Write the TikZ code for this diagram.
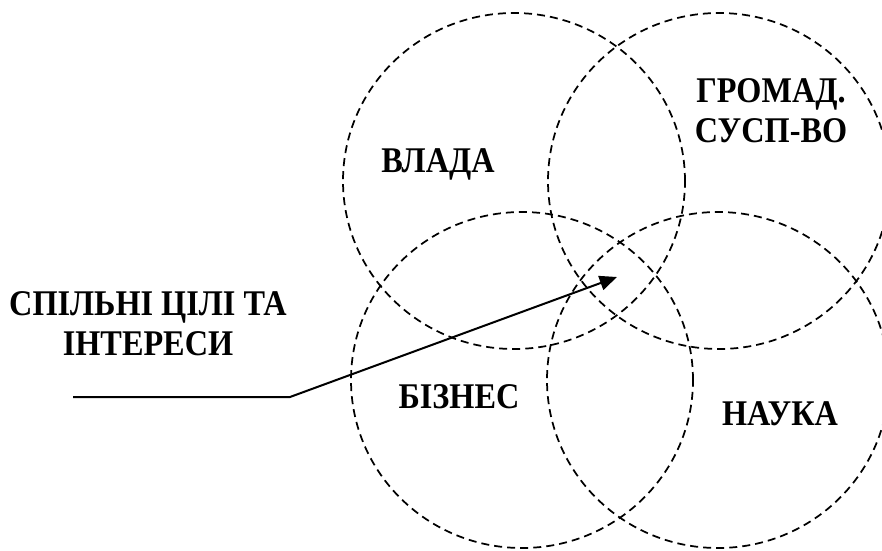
\documentclass[tikz,border=0pt]{standalone}
\usepackage{fontspec}
\setmainfont{Liberation Serif}
\usetikzlibrary{arrows.meta}
\newcommand{\tall}[1]{\scalebox{1}[1.12]{#1}}
\tikzset{
  ring/.style={draw=black, line width=1.3pt, dash pattern=on 6pt off 3.8pt},
  lbl/.style={font=\fontsize{24.2}{30}\selectfont\bfseries, align=center, inner sep=0pt, text=black},
  pointer/.style={draw=black, line width=1.5pt, -{Triangle[length=13pt,width=11pt]}}
}
\begin{document}
\begin{tikzpicture}[x=0.75pt,y=-0.75pt]
\useasboundingbox (0,0) rectangle (882,550);
\coordinate (cTL) at (514,181);
\coordinate (cTR) at (719,181);
\coordinate (cBL) at (522,380);
\coordinate (cBR) at (718,380);
\draw[ring] (cTL) ellipse [x radius=128.25pt, y radius=126pt];
\draw[ring] (cTR) ellipse [x radius=128.25pt, y radius=126pt];
\draw[ring] (cBL) ellipse [x radius=128.25pt, y radius=126pt];
\draw[ring] (cBR) ellipse [x radius=128.25pt, y radius=126pt];
\node[lbl] (vlada) at (438,164) {\tall{ВЛАДА}};
\node[lbl] (hrom) at (771,111) {\tall{ГРОМАД.}\\\tall{СУСП-ВО}};
\node[lbl] (biz) at (459,397) {\tall{БІЗНЕС}};
\node[lbl] (nauka) at (780,414) {\tall{НАУКА}};
\node[lbl] (goals) at (148,324) {\tall{СПІЛЬНІ ЦІЛІ ТА}\\\tall{ІНТЕРЕСИ}};
\coordinate (start) at (73,397);
\coordinate (bend) at (290,397);
\coordinate (tip) at (617,277);
\draw[pointer] (start) -- (bend) -- (tip);
\end{tikzpicture}
\end{document}
